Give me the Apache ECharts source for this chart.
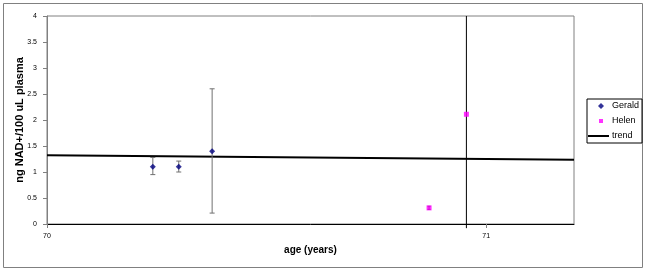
<!DOCTYPE html>
<html><head><meta charset="utf-8">
<script src="https://cdn.jsdelivr.net/npm/echarts@6/dist/echarts.min.js"></script>
<style>html,body{margin:0;padding:0;background:#fff}#c{width:647px;height:274px}</style>
</head><body><div id="c"></div>
<script>
// Data
var geraldAge = [70.241, 70.300, 70.376];
var geraldVal = [1.10, 1.10, 1.40];
var geraldLow = [0.95, 1.00, 0.21];
var geraldHigh = [1.28, 1.21, 2.60];
var helenAge = [70.870, 70.955];
var helenVal = [0.31, 2.11];
var helenLow = [0.28, -0.08];
var helenHigh = [0.34, 4.00];
var trendAge = [70.0, 71.2];
var trendVal = [1.32, 1.235];
var xTicks = [70, 71];
var yTicks = [0, 0.5, 1, 1.5, 2, 2.5, 3, 3.5, 4];

var FONT = '"Liberation Sans", Arial, sans-serif';
function zip(a, b){ return a.map(function(v,i){ return [v, b[i]]; }); }
function errData(x, y, lo, hi){ return x.map(function(v,i){ return [v, y[i], lo[i], hi[i]]; }); }

function errRender(color, cap){
  return function(params, api){
    var x = api.value(0);
    var lo = api.coord([x, api.value(2)]);
    var hi = api.coord([x, api.value(3)]);
    var st = {stroke: color, lineWidth: 1};
    return {type:'group', children:[
      {type:'line', shape:{x1:lo[0], y1:lo[1], x2:hi[0], y2:hi[1]}, style:st},
      {type:'line', shape:{x1:lo[0]-cap, y1:lo[1], x2:lo[0]+cap, y2:lo[1]}, style:st},
      {type:'line', shape:{x1:hi[0]-cap, y1:hi[1], x2:hi[0]+cap, y2:hi[1]}, style:st}
    ]};
  };
}

// legend icons in a 21x10 box (moveTo points fix the bounding box)
var ICON_DIAMOND = 'path://M0,0M21,10M13,2L16,5L13,8L10,5Z';
var ICON_SQUARE = 'path://M0,0M21,10M11,3H15V7H11Z';
var ICON_LINE = 'path://M0,0M21,10M0,4H21V6H0Z';

var chart = echarts.init(document.getElementById('c'));
chart.setOption({
  animation: false,
  textStyle: {fontFamily: FONT},
  graphic: [{type:'rect', shape:{x:3.5, y:3.5, width:639, height:264}, style:{fill:'none', stroke:'#808080', lineWidth:1}, z:-10}],
  grid: {left:47, right:73, top:16, bottom:50, show:true, borderColor:'#808080', borderWidth:1,
         containLabel:false, outerBoundsMode:'none'},
  legend: {
    left:587, top:99, orient:'vertical', padding:[2,3,2,1], itemGap:5, itemWidth:21, itemHeight:10,
    borderColor:'#000', borderWidth:1, backgroundColor:'#fff',
    textStyle:{fontFamily:FONT, fontSize:9, color:'#000', padding:[0,0,0,-2]},
    data:[{name:'Gerald', icon:ICON_DIAMOND, itemStyle:{color:'#000080'}},
          {name:'Helen', icon:ICON_SQUARE, itemStyle:{color:'#ff00ff'}},
          {name:'trend', icon:ICON_LINE, itemStyle:{color:'#000'}}]
  },
  xAxis: {
    type:'value', min:70, max:71.2, interval:1,
    name:'age (years)', nameLocation:'middle', nameGap:21, nameMoveOverlap:false,
    nameTextStyle:{fontFamily:FONT, fontWeight:'bold', fontSize:10, color:'#000'},
    axisLine:{onZero:false, lineStyle:{color:'#000', width:1}},
    axisTick:{show:true, length:4, lineStyle:{color:'#808080'}},
    splitLine:{show:false},
    axisLabel:{fontSize:7, color:'#000', margin:9, showMaxLabel:false,
      formatter:function(v){ return xTicks.indexOf(v) >= 0 ? String(v) : ''; }}
  },
  yAxis: {
    type:'value', min:0, max:4, interval:0.5,
    name:'ng NAD+/100 uL plasma', nameLocation:'middle', nameGap:22, nameMoveOverlap:false,
    nameTextStyle:{fontFamily:FONT, fontWeight:'bold', fontSize:11, color:'#000'},
    axisLine:{show:true, lineStyle:{color:'#808080'}},
    axisTick:{show:true, length:4, lineStyle:{color:'#808080'}},
    splitLine:{show:false},
    axisLabel:{fontSize:7, color:'#000', margin:10,
      formatter:function(v){ return yTicks.indexOf(v) >= 0 ? String(v) : ''; }}
  },
  series: [
    {name:'trend', type:'line', data: zip(trendAge, trendVal), symbol:'none',
     lineStyle:{color:'#000', width:2}, itemStyle:{color:'#000'}, z:2},
    {name:'Gerald-err', type:'custom', renderItem: errRender('#707070', 2.5),
     data: errData(geraldAge, geraldVal, geraldLow, geraldHigh), encode:{x:0, y:1}, z:3, clip:false},
    {name:'Helen-err', type:'custom', renderItem: function(p, api){
        var idx = p.dataIndex;
        return errRender(idx === 1 ? '#000' : '#404040', idx === 1 ? 0 : 1.5)(p, api);
      },
     data: errData(helenAge, helenVal, helenLow, helenHigh), encode:{x:0, y:1}, z:3, clip:false},
    {name:'Gerald', type:'scatter', data: zip(geraldAge, geraldVal), symbol:'diamond', symbolSize:6,
     itemStyle:{color:'#000080'}, z:5},
    {name:'Helen', type:'scatter', data: zip(helenAge, helenVal), symbol:'rect', symbolSize:5,
     itemStyle:{color:'#ff00ff'}, z:5}
  ]
});
</script>
</body></html>
